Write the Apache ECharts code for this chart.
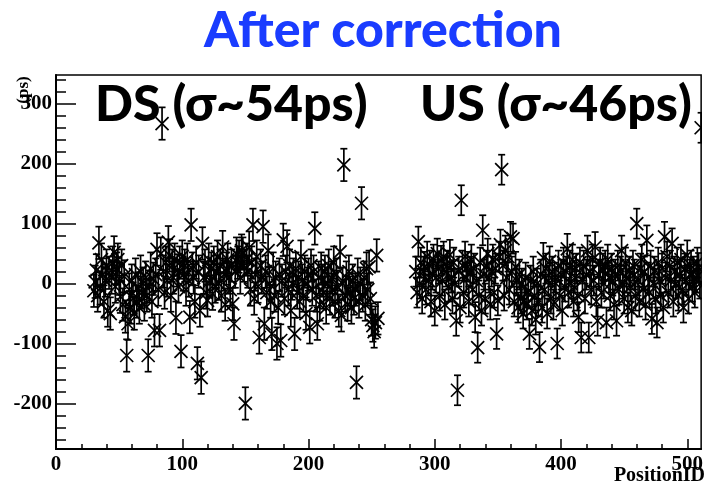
<!DOCTYPE html>
<html><head><meta charset="utf-8">
<script src="https://cdn.jsdelivr.net/npm/echarts@6/dist/echarts.min.js"></script>
<style>html,body{margin:0;padding:0;background:#fff}#c{width:706px;height:484px}</style>
</head><body><div id="c"></div>
<script>
// ---------- data ----------
const dsStartID = 30;   // DS points: PositionID 30 .. 255
const dsValues = [
 -12, 3, 22, -20, 68, -8, 40, 15, -30, 5,
 30, -45, 18, -50, 10, 35, 52, -5, 25, 40,
 8, -22, 30, -35, 12, -55, -120, -67, -10, -40,
 5, -25, -50, 15, -30, -8, -40, 20, -15, 0,
 -35, 10, -20, -120, -5, 25, -30, 8, -78, 15,
 57, -10, -78, 50, 267, 20, -15, 35, 5, 69,
 47, -20, 30, 10, 40, -57, 22, -5, 35, -113,
 45, 15, 30, -10, 40, 5, -56, 98, 25, 10,
 -30, 35, -133, 20, -45, -157, 67, 10, 30, -15,
 -28, 40, 5, 25, -17, 35, -5, 20, 45, 0,
 30, -20, 61, 15, -35, 25, 40, 10, -10, 30,
 -34, -67, 20, 50, 35, 45, 10, 55, 50, 30,
 -200, 40, 20, 60, -10, 35, 98, -25, 15, 45,
 -5, -90, 30, 10, 95, -67, 20, -15, 55, 0,
 -30, -84, 25, -20, 10, -100, -40, 15, -95, 5,
 73, -25, 20, 62, -10, 30, -45, 0, 15, -84,
 25, -15, 10, -30, 45, 5, -20, 20, -50, 0,
 15, -73, 30, -10, 20, 92, -20, -67, 10, -35,
 25, 5, -15, 20, -40, 0, 30, -25, 10, -10,
 35, -30, 15, -5, -45, 53, -53, 0, 198, -20,
 10, -35, 20, -15, -40, 5, -25, -10, -165, 15,
 -30, 0, 134, -20, 10, -35, 25, -10, 28, -25,
 -60, -70, -80, -65, 47, -58
];
const usStartID = 285;  // US points: PositionID 285 .. 511
const usValues = [
 20, -15, 70, 0, 35,
 -25, 20, 28, -10, 45, 5, 30, -30, 15, 40,
 -45, 10, 50, 25, -20, 38, 5, 45, -35, 20,
 30, -5, 48, 10, -25, 35, 0, -62, -178, 20,
 -40, 139, 30, -15, 45, 10, 28, -30, 20, 40,
 -10, 25, -56, 5, -107, -20, 35, -45, 89, 15,
 -25, 30, 50, 10, -35, 20, 40, -15, 25, -84,
 -28, 45, 65, 190, 30, -20, 55, 10, 45, -10,
 78, 20, 75, -30, 28, 5, -40, 15, -25, 0,
 -50, -28, 10, -35, -15, -84, 5, -45, 20, -20,
 -60, 0, -30, -106, 15, -40, 43, -10, 25, -50,
 5, 37, -25, 20, -35, 10, 0, -100, 30, -20,
 15, -45, 35, -5, 20, 58, -15, 30, 0, 40,
 -30, 10, 25, -20, -56, 35, -90, 5, 30, -25,
 15, 55, -90, 20, -10, 40, 5, 61, -30, -62,
 15, 35, -15, 25, 0, 30, -65, 40, 10, -20,
 25, 5, -35, 15, -62, 30, -10, 20, 55, 0,
 -25, 35, 10, -40, 20, -5, -45, 30, 15, -20,
 100, 5, -30, 25, 40, -10, 20, -35, 72, 10,
 -15, 30, -59, 0, 20, -25, -65, 35, 5, -20,
 25, -40, 78, 10, 45, -15, 30, 5, 67, -30,
 20, 0, 35, -20, 15, 40, -10, -40, 25, 5,
 47, -25, 15, 30, -5, 20, -15, 10, 35, 26,
 0, 260
];
const dsError = 27;
const usError = 25;
const xMajorTicks = [0, 100, 200, 300, 400, 500];
const yMajorTicks = [-200, -100, 0, 100, 200, 300];
const xRange = [0, 511];
const yRange = [-276, 348];
const minorStep = 20;

// ---------- build ----------
function toData(start, vals, err) {
  return vals.map((v, i) => [start + i, v, err]);
}
function minorTicks(range, majors) {
  const out = [];
  for (let t = Math.ceil(range[0] / minorStep) * minorStep; t <= range[1]; t += minorStep) {
    if (majors.indexOf(t) < 0 && t % 100 !== 0) out.push(t);
  }
  return out;
}
const allData = toData(dsStartID, dsValues, dsError).concat(toData(usStartID, usValues, usError));

function renderErr(params, api) {
  const x = api.value(0), y = api.value(1), e = api.value(2);
  const c = api.coord([x, y]), t = api.coord([x, y + e]), b = api.coord([x, y - e]);
  const s = 6.5, cap = 3.5;
  const st = { stroke: '#000', lineWidth: 1.7, fill: null };
  return { type: 'group', children: [
    { type: 'line', shape: { x1: c[0], y1: t[1], x2: c[0], y2: b[1] }, style: st },
    { type: 'line', shape: { x1: c[0] - cap, y1: t[1], x2: c[0] + cap, y2: t[1] }, style: st },
    { type: 'line', shape: { x1: c[0] - cap, y1: b[1], x2: c[0] + cap, y2: b[1] }, style: st },
    { type: 'line', shape: { x1: c[0] - s, y1: c[1] - s, x2: c[0] + s, y2: c[1] + s }, style: st },
    { type: 'line', shape: { x1: c[0] - s, y1: c[1] + s, x2: c[0] + s, y2: c[1] - s }, style: st }
  ]};
}

const serif = '"Liberation Serif", "DejaVu Serif", serif';
const labelStyle = { color: '#000', fontFamily: serif, fontWeight: 'bold', fontSize: 21 };
const heavy = 'Lato, "DejaVu Sans", sans-serif';

const chart = echarts.init(document.getElementById('c'), null, { renderer: 'canvas' });
chart.setOption({
  animation: false,
  backgroundColor: '#fff',
  grid: { left: 56, right: 3, top: 75, bottom: 35, show: true, borderColor: '#000', borderWidth: 1.5, backgroundColor: 'transparent' },
  xAxis: [
    { type: 'value', min: xRange[0], max: xRange[1], position: 'bottom',
      axisLine: { show: true, onZero: false, lineStyle: { color: '#000', width: 2 } },
      axisTick: { show: true, inside: true, length: 10, customValues: xMajorTicks, lineStyle: { color: '#000', width: 1.5 } },
      axisLabel: Object.assign({ customValues: xMajorTicks, margin: 5 }, labelStyle),
      splitLine: { show: false } },
    { type: 'value', min: xRange[0], max: xRange[1], position: 'bottom',
      axisLine: { show: false, onZero: false },
      axisTick: { show: true, inside: true, length: 5, customValues: minorTicks(xRange, xMajorTicks), lineStyle: { color: '#000', width: 1.5 } },
      axisLabel: { show: false }, splitLine: { show: false } }
  ],
  yAxis: [
    { type: 'value', min: yRange[0], max: yRange[1], position: 'left',
      axisLine: { show: true, onZero: false, lineStyle: { color: '#000', width: 2 } },
      axisTick: { show: true, inside: true, length: 20, customValues: yMajorTicks, lineStyle: { color: '#000', width: 1.5 } },
      axisLabel: Object.assign({ customValues: yMajorTicks, margin: 4 }, labelStyle),
      splitLine: { show: false } },
    { type: 'value', min: yRange[0], max: yRange[1], position: 'left',
      axisLine: { show: false, onZero: false },
      axisTick: { show: true, inside: true, length: 10, customValues: minorTicks(yRange, yMajorTicks), lineStyle: { color: '#000', width: 1.5 } },
      axisLabel: { show: false }, splitLine: { show: false } }
  ],
  series: [{
    type: 'custom', xAxisIndex: 0, yAxisIndex: 0, clip: true,
    renderItem: renderErr, data: allData, silent: true
  }],
  graphic: [
    { type: 'text', x: 383, y: 31, z: 10,
      style: { text: '{t|After correc}{t|tion}', align: 'center', verticalAlign: 'middle',
        rich: { t: { fill: '#1a3cff', fontFamily: heavy, fontWeight: 900, fontSize: 50 } } } },
    { type: 'text', x: 95, y: 105, z: 10,
      style: { text: 'DS (σ~54ps)', fill: '#000', font: '900 50px ' + heavy, verticalAlign: 'middle', align: 'left' } },
    { type: 'text', x: 420, y: 105, z: 10,
      style: { text: 'US (σ~46ps)', fill: '#000', font: '900 50px ' + heavy, verticalAlign: 'middle', align: 'left' } },
    { type: 'text', x: 24, y: 90, rotation: Math.PI / 2, z: 10,
      style: { text: '(ps)', fill: '#000', font: 'bold 17px "Liberation Serif", serif', verticalAlign: 'middle', align: 'center' } },
    { type: 'text', x: 705, y: 476, z: 10,
      style: { text: 'PositionID', fill: '#000', font: 'bold 20px "Liberation Serif", serif', verticalAlign: 'middle', align: 'right' } }
  ]
});
</script></body></html>
